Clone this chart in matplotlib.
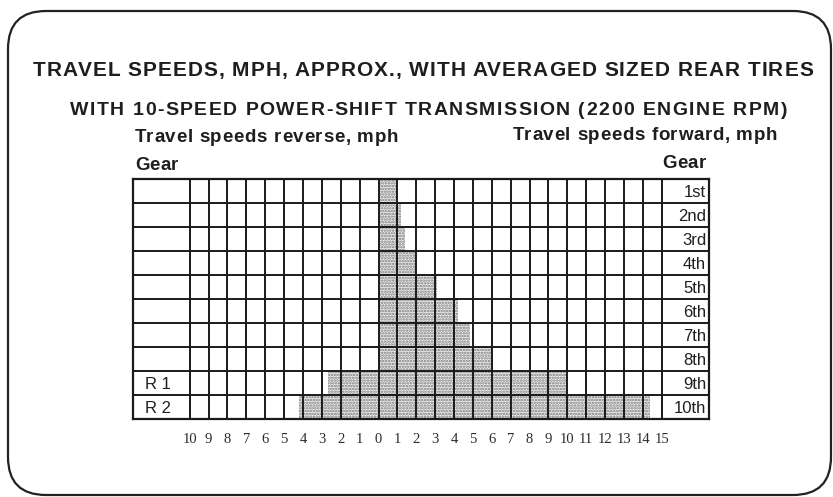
import numpy as np
import matplotlib.pyplot as plt
from matplotlib.patches import FancyBboxPatch
from matplotlib.font_manager import FontProperties, findfont
from matplotlib import ft2font

# forward gears and their approximate top speeds (mph)
gears = ['1st', '2nd', '3rd', '4th', '5th', '6th', '7th', '8th', '9th', '10th']
forward_mph = [1.0, 1.2, 1.4, 2.0, 3.1, 4.2, 4.85, 6.05, 10.0, 14.4]

# reverse gears sit on the 9th and 10th rows
reverse_gears = ['R 1', 'R 2']
reverse_rows = [8, 9]
reverse_mph = [2.7, 4.2]

speed_ticks = list(range(-10, 16))
speed_labels = [str(abs(v)) for v in speed_ticks]

W, H = 833, 497
DPI = 100
sans = 'Liberation Sans'
ink = '#1e1e1e'

fig = plt.figure(figsize=(W / DPI, H / DPI), dpi=DPI)
fig.patch.set_facecolor('white')

# background axes in pixel coords for the rounded frame and the headings
bg = fig.add_axes([0, 0, 1, 1])
bg.set_xlim(0, W)
bg.set_ylim(H, 0)
bg.axis('off')
r = 38
frame = FancyBboxPatch((8 + r, 11 + r), 831 - 8 - 2 * r, 495 - 11 - 2 * r,
                       boxstyle='round,pad=%d,rounding_size=%d' % (r, r),
                       fc='none', ec='#222222', lw=1.6)
bg.add_patch(frame)


def kern(font, a, b):
    try:
        mode = ft2font.Kerning.DEFAULT
    except AttributeError:
        mode = 0
    try:
        return font.get_kerning(font.get_char_index(ord(a)),
                                font.get_char_index(ord(b)), mode) / 64
    except Exception:
        return 0.0


def tracked(x0, x1, y, s, size, weight='bold'):
    """Draw s letter by letter on baseline y, spread out to span x0..x1."""
    fp = FontProperties(family=sans, weight=weight, size=size)
    font = ft2font.FT2Font(findfont(fp))
    font.set_size(size, DPI)
    adv = [font.load_char(ord(c)).linearHoriAdvance / 65536 for c in s]
    kerns = [kern(font, a, b) for a, b in zip(s[:-1], s[1:])] + [0.0]
    track = ((x1 - x0) - sum(adv) - sum(kerns)) / (len(s) - 1)
    pos = x0
    for c, a, k in zip(s, adv, kerns):
        if c != ' ':
            bg.text(pos, y, c, fontproperties=fp, ha='left', va='baseline', color=ink)
        pos += a + k + track


tracked(33, 813, 76, 'TRAVEL SPEEDS, MPH, APPROX., WITH AVERAGED SIZED REAR TIRES', 15)
tracked(70, 787, 115, 'WITH 10-SPEED POWER-SHIFT TRANSMISSION (2200 ENGINE RPM)', 14)
tracked(135, 398, 142, 'Travel speeds reverse, mph', 13.5)
tracked(513, 777, 140, 'Travel speeds forward, mph', 13.5)
tracked(135, 178, 170, 'Gear', 13.5)
tracked(662, 706, 168, 'Gear', 13.5)

# grid axes: columns are 1 mph wide, label columns on both sides
x_left, x_right = -13.0, 17.5
px_l, px_r, px_t, px_b = 133, 709, 179, 419
ax = fig.add_axes([px_l / W, 1 - px_b / H, (px_r - px_l) / W, (px_b - px_t) / H])
ax.set_xlim(x_left, x_right)
ax.set_ylim(10, 0)

plt.rcParams['hatch.linewidth'] = 1.2
rows = np.arange(len(gears))
ax.barh(rows, forward_mph, left=0, height=1.0, align='edge',
        color='#eeeeee', edgecolor='#777777', linewidth=0, hatch='......', zorder=1)
ax.barh(reverse_rows, [-v for v in reverse_mph], left=0, height=1.0, align='edge',
        color='#eeeeee', edgecolor='#777777', linewidth=0, hatch='......', zorder=1)

line_kw = dict(color='#1a1a1a', lw=1.4, zorder=3)
for v in speed_ticks:
    ax.plot([v, v], [0, 10], **line_kw)
for k in range(11):
    ax.plot([x_left, x_right], [k, k], **line_kw)

for k, g in enumerate(gears):
    ax.text(17.35, k + 0.55, g, ha='right', va='center', fontsize=12, family=sans, color=ink)
for k, g in zip(reverse_rows, reverse_gears):
    ax.text(-12.35, k + 0.55, g, ha='left', va='center', fontsize=12, family=sans, color=ink)

ax.set_xticks(speed_ticks)
ax.set_xticklabels(speed_labels, family='Liberation Serif', fontsize=10.5, color='#2a2a2a')
ax.tick_params(axis='x', length=0, pad=10)
ax.set_yticks([])
for s in ax.spines.values():
    s.set_linewidth(1.6)
    s.set_color('#1a1a1a')

fig.savefig('out.png', dpi=DPI)
